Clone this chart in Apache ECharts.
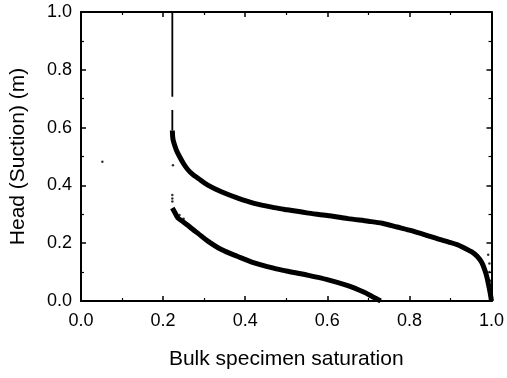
<!DOCTYPE html>
<html>
<head>
<meta charset="utf-8">
<script src="https://cdn.jsdelivr.net/npm/echarts@6/dist/echarts.min.js"></script>
<style>
  html, body { margin: 0; padding: 0; background: #fff; }
  #chart { width: 507px; height: 378px; }
</style>
</head>
<body>
<div id="chart"></div>
<script>
// values: [saturation, head (m)]
const upperVertical = [[0.2225, 1.0], [0.2225, 0.707], null, [0.2225, 0.661], [0.2225, 0.59]];
const upperCurve = [
  [0.2225, 0.59], [0.224, 0.56], [0.228, 0.54], [0.233, 0.52], [0.24, 0.5], [0.25, 0.475],
  [0.26, 0.455], [0.272, 0.438], [0.285, 0.425], [0.309, 0.401], [0.342, 0.378], [0.382, 0.356],
  [0.422, 0.338], [0.471, 0.323], [0.5, 0.316], [0.55, 0.305], [0.6, 0.296], [0.65, 0.285],
  [0.7, 0.276], [0.734, 0.269], [0.77, 0.256], [0.8, 0.245], [0.84, 0.228], [0.871, 0.214],
  [0.896, 0.204], [0.92, 0.193], [0.936, 0.182], [0.952, 0.17], [0.965, 0.155], [0.976, 0.134],
  [0.983, 0.11], [0.989, 0.082], [0.993, 0.055], [0.997, 0.027], [1.0, 0.0]
];
const lowerCurve = [
  [0.2225, 0.322], [0.228, 0.308], [0.236, 0.288], [0.248, 0.275], [0.26, 0.262], [0.272, 0.248],
  [0.285, 0.234], [0.309, 0.207], [0.342, 0.178], [0.382, 0.154], [0.422, 0.132], [0.471, 0.113],
  [0.5, 0.104], [0.55, 0.09], [0.6, 0.074], [0.65, 0.053], [0.69, 0.03], [0.71, 0.015], [0.73, 0.0]
];
const strayPoints = [
  [0.052, 0.482], [0.224, 0.47], [0.2225, 0.367], [0.2225, 0.355], [0.2225, 0.344],
  [0.23, 0.3], [0.24, 0.298], [0.25, 0.285], [0.995, 0.13], [0.995, 0.1], [0.998, 0.07], [0.992, 0.16]
];
const xTicks = [0, 0.2, 0.4, 0.6, 0.8, 1.0];
const yTicks = [0, 0.2, 0.4, 0.6, 0.8, 1.0];

const font = 'Liberation Sans, Arial, sans-serif';

function axisCommon(show) {
  return {
    type: 'value',
    min: 0,
    max: 1,
    interval: 0.2,
    axisLine: { show: true, onZero: false, lineStyle: { color: '#000', width: 2 } },
    axisTick: { show: true, inside: true, length: 5, lineStyle: { color: '#000', width: 1.5 } },
    minorTick: { show: true, splitNumber: 2, length: 3, lineStyle: { color: '#000', width: 1.2 } },
    splitLine: { show: false },
    axisLabel: {
      show: show,
      color: '#000',
      fontSize: 18,
      fontFamily: font,
      formatter: v => v.toFixed(1)
    }
  };
}

const chart = echarts.init(document.getElementById('chart'), null, { renderer: 'canvas' });

const xBottom = axisCommon(true);
xBottom.position = 'bottom';
xBottom.axisLabel.margin = 11;
xBottom.axisLabel.customValues = xTicks;
xBottom.name = 'Bulk specimen saturation';
xBottom.nameLocation = 'middle';
xBottom.nameGap = 48;
xBottom.nameTextStyle = { color: '#000', fontSize: 21, fontFamily: font };

const xTop = axisCommon(false);
xTop.position = 'top';

const yLeft = axisCommon(true);
yLeft.position = 'left';
yLeft.axisLabel.margin = 9;
yLeft.axisLabel.customValues = yTicks;
yLeft.name = 'Head (Suction) (m)';
yLeft.nameLocation = 'middle';
yLeft.nameGap = 52;
yLeft.nameTextStyle = { color: '#000', fontSize: 21, fontFamily: font };

const yRight = axisCommon(false);
yRight.position = 'right';

chart.setOption({
  animation: false,
  backgroundColor: '#fff',
  grid: { left: 81, right: 14, top: 12, bottom: 77 },
  xAxis: [xBottom, xTop],
  yAxis: [yLeft, yRight],
  series: [
    {
      type: 'line',
      data: upperVertical,
      showSymbol: false,
      connectNulls: false,
      lineStyle: { color: '#000', width: 1.8 }
    },
    {
      type: 'line',
      data: upperCurve,
      showSymbol: false,
      smooth: 0.3,
      lineStyle: { color: '#000', width: 5 }
    },
    {
      type: 'line',
      data: lowerCurve,
      showSymbol: false,
      smooth: 0.3,
      lineStyle: { color: '#000', width: 5 }
    },
    {
      type: 'scatter',
      data: strayPoints,
      symbolSize: 2.5,
      itemStyle: { color: '#000' }
    }
  ]
});
</script>
</body>
</html>
